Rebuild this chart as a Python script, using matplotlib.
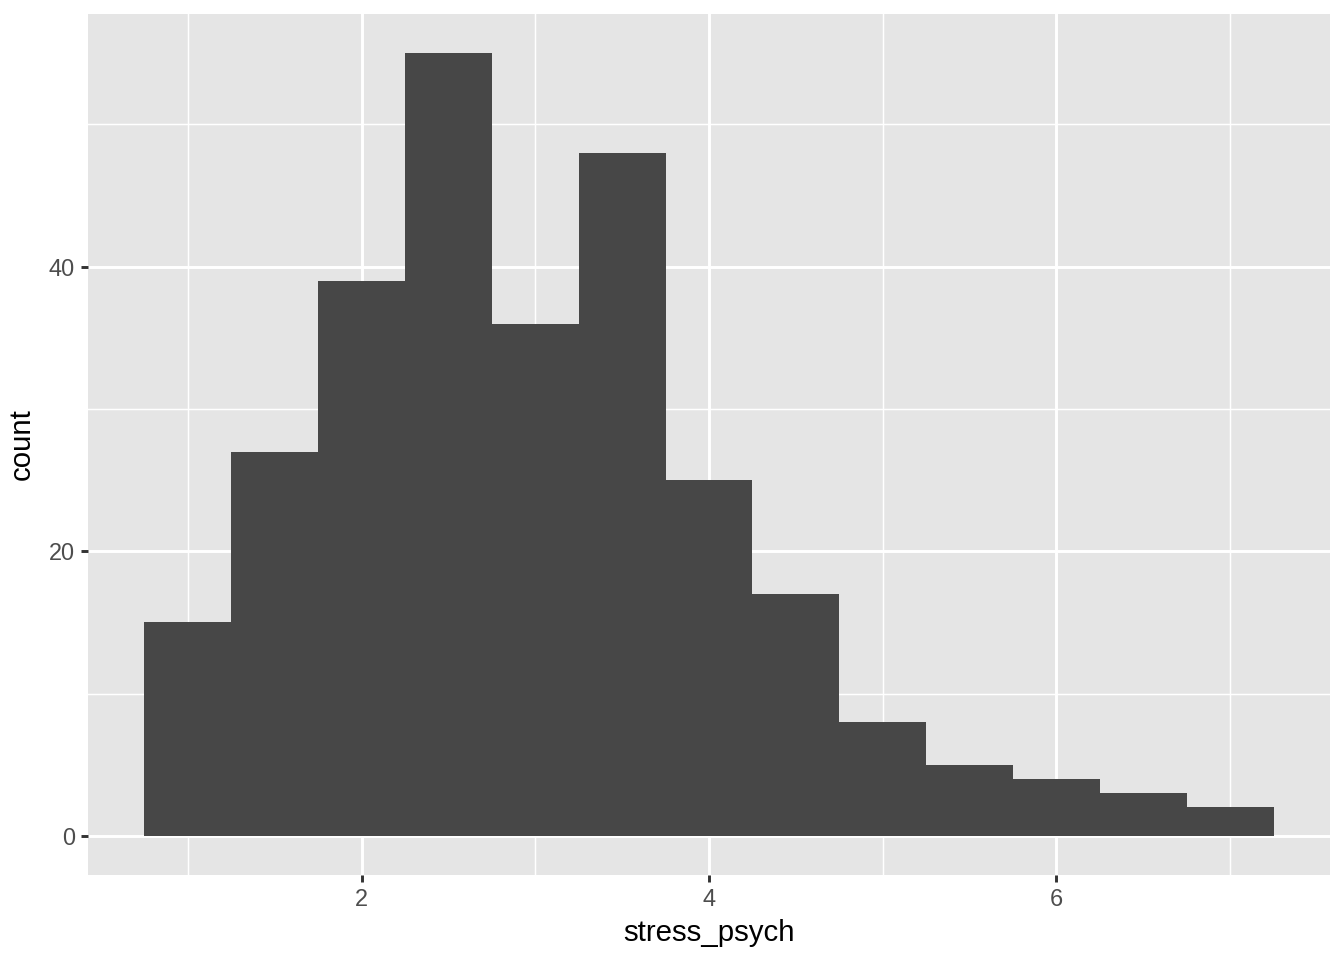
import matplotlib
matplotlib.use('Agg')
import matplotlib.pyplot as plt
import numpy as np

plt.rcParams['font.family'] = ['Liberation Sans', 'DejaVu Sans']

# histogram bins (binwidth 0.5) and counts
bin_edges = [0.75, 1.25, 1.75, 2.25, 2.75, 3.25, 3.75, 4.25, 4.75, 5.25, 5.75, 6.25, 6.75, 7.25]
counts = [15, 27, 39, 55, 36, 48, 25, 17, 8, 5, 4, 3, 2]

x_major = [2, 4, 6]
x_minor = [1, 3, 5, 7]
y_major = [0, 20, 40]
y_minor = [10, 30, 50]

fig = plt.figure(figsize=(7, 5), dpi=192)
ax = fig.add_axes([88/1344, 1 - 875/960, (1330-88)/1344, (875-14)/960])
ax.set_facecolor('#E5E5E5')

edges = np.array(bin_edges)
ax.bar(edges[:-1], counts, width=np.diff(edges), align='edge',
       color='#474747', linewidth=0, zorder=3)

ax.set_xlim(0.425, 7.575)
ax.set_ylim(-2.75, 57.75)
ax.set_xticks(x_major)
ax.set_xticks(x_minor, minor=True)
ax.set_yticks(y_major)
ax.set_yticks(y_minor, minor=True)

ax.grid(which='major', color='white', linewidth=1.1, zorder=1)
ax.grid(which='minor', color='white', linewidth=0.55, zorder=1)
ax.set_axisbelow(True)

for s in ax.spines.values():
    s.set_visible(False)

ax.tick_params(which='major', length=2.75, width=1.1, color='#333333',
               labelsize=8.8, labelcolor='#4D4D4D', pad=2.2)
ax.tick_params(which='minor', length=0)

ax.set_xlabel('stress_psych', fontsize=11, color='black', labelpad=3)
ax.set_ylabel('count', fontsize=11, color='black', labelpad=5)

fig.savefig('out.png', dpi=192, facecolor='white')
